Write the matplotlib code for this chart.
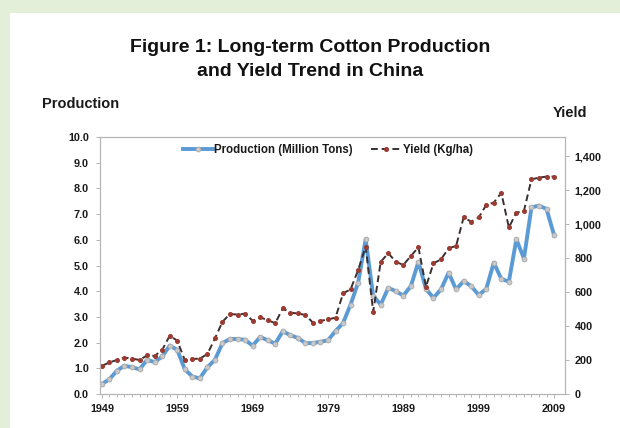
import numpy as np
import matplotlib.pyplot as plt
from matplotlib.patches import Rectangle

# ---- data ----
years = list(range(1949, 2010))

production = [0.39, 0.57, 0.91, 1.10, 1.04, 0.96, 1.33, 1.24, 1.46, 1.88,
              1.72, 0.96, 0.68, 0.61, 1.04, 1.33, 1.98, 2.14, 2.14, 2.11,
              1.88, 2.22, 2.09, 1.96, 2.44, 2.29, 2.18, 1.98, 1.98, 2.03,
              2.09, 2.45, 2.76, 3.48, 4.33, 6.02, 3.81, 3.48, 4.13, 4.00,
              3.83, 4.20, 5.14, 4.09, 3.74, 4.07, 4.72, 4.07, 4.39, 4.20,
              3.85, 4.09, 5.11, 4.48, 4.37, 6.02, 5.27, 7.26, 7.33, 7.20,
              6.18]

yield_kg = [165, 186, 200, 214, 208, 200, 227, 224, 259, 343,
            314, 200, 206, 208, 235, 327, 425, 471, 467, 473,
            431, 451, 435, 416, 504, 478, 474, 465, 420, 430,
            439, 449, 592, 616, 729, 867, 484, 778, 828, 778,
            759, 812, 863, 631, 769, 792, 857, 871, 1039, 1014,
            1039, 1112, 1126, 1184, 980, 1067, 1077, 1263, 1273, 1279,
            1279]

left_ticks = np.arange(0, 10.5, 1.0)
right_ticks = np.arange(0, 1401, 200)
x_labels = [1949, 1959, 1969, 1979, 1989, 1999, 2009]

plt.rcParams['font.family'] = ['Liberation Sans', 'DejaVu Sans']
plt.rcParams['font.weight'] = 'bold'

fig = plt.figure(figsize=(6.2, 4.28), dpi=100)
fig.patch.set_facecolor('#e3efd9')
# white panel behind everything
fig.add_artist(Rectangle((10 / 620, 0), 1, 1 - 13 / 428, transform=fig.transFigure,
                         facecolor='white', edgecolor='none', zorder=-10))

ax = fig.add_axes([100 / 620, 1 - 394 / 428, 465 / 620, 257 / 428])
ax.set_facecolor('white')
ax2 = ax.twinx()

ax.plot(years, production, color='#5b9bd5', lw=2.8, marker='o', ms=3.5,
        mfc='#c9c9c9', mec='#a8a8a8', mew=0.6, label='Production (Million Tons)', zorder=3)
ax2.plot(years, yield_kg, color='#3a3030', lw=1.4, ls=(0, (3.5, 2)), marker='o', ms=2.6,
         mfc='#9b3b32', mec='#9b3b32', label='Yield (Kg/ha)')

ax.set_xlim(1948.75, 2010.45)
ax.set_ylim(0, 10)
ax2.set_ylim(0, 1512)

ax.set_yticks(left_ticks)
ax.set_yticklabels([f'{v:.1f}' for v in left_ticks])
ax2.set_yticks(right_ticks)
ax2.set_yticklabels([f'{v:,}' for v in right_ticks])
ax.set_xticks(x_labels)
ax.set_xticks(years, minor=True)

for a in (ax, ax2):
    for s in a.spines.values():
        s.set_color('#b5b5b5')
        s.set_linewidth(0.8)
ax.tick_params(axis='both', which='both', color='#b5b5b5', labelsize=7.8, length=3, width=0.7)
ax.tick_params(axis='x', which='minor', length=2.5)
ax.tick_params(axis='x', which='major', length=3, pad=4)
ax.tick_params(axis='y', pad=5)
ax2.tick_params(axis='y', color='#b5b5b5', labelsize=7.8, length=3, width=0.7, pad=4)
for lab in ax.get_xticklabels() + ax.get_yticklabels() + ax2.get_yticklabels():
    lab.set_fontweight('bold')
    lab.set_color('#1a1a1a')

h1, l1 = ax.get_legend_handles_labels()
h2, l2 = ax2.get_legend_handles_labels()
leg = ax2.legend(h1 + h2, l1 + l2, loc='center', bbox_to_anchor=(0.49, 1 - 13 / 257),
                 ncol=2, frameon=False, fontsize=8.3, handlelength=2.6, columnspacing=1.6,
                 handletextpad=0.1, borderpad=0)
for t in leg.get_texts():
    t.set_fontweight('bold')
    t.set_color('#1a1a1a')

fig.text(0.5, 1 - 47 / 428, 'Figure 1: Long-term Cotton Production', ha='center', va='center',
         fontsize=14, fontweight='bold', color='#111111')
fig.text(0.5, 1 - 72 / 428, 'and Yield Trend in China', ha='center', va='center',
         fontsize=14, fontweight='bold', color='#111111')
fig.text(42 / 620, 1 - 104 / 428, 'Production', ha='left', va='center', fontsize=10.5,
         fontweight='bold', color='#1a1a1a')
fig.text(553 / 620, 1 - 113 / 428, 'Yield', ha='left', va='center', fontsize=10.5,
         fontweight='bold', color='#1a1a1a')

fig.savefig('out.png', dpi=100)
